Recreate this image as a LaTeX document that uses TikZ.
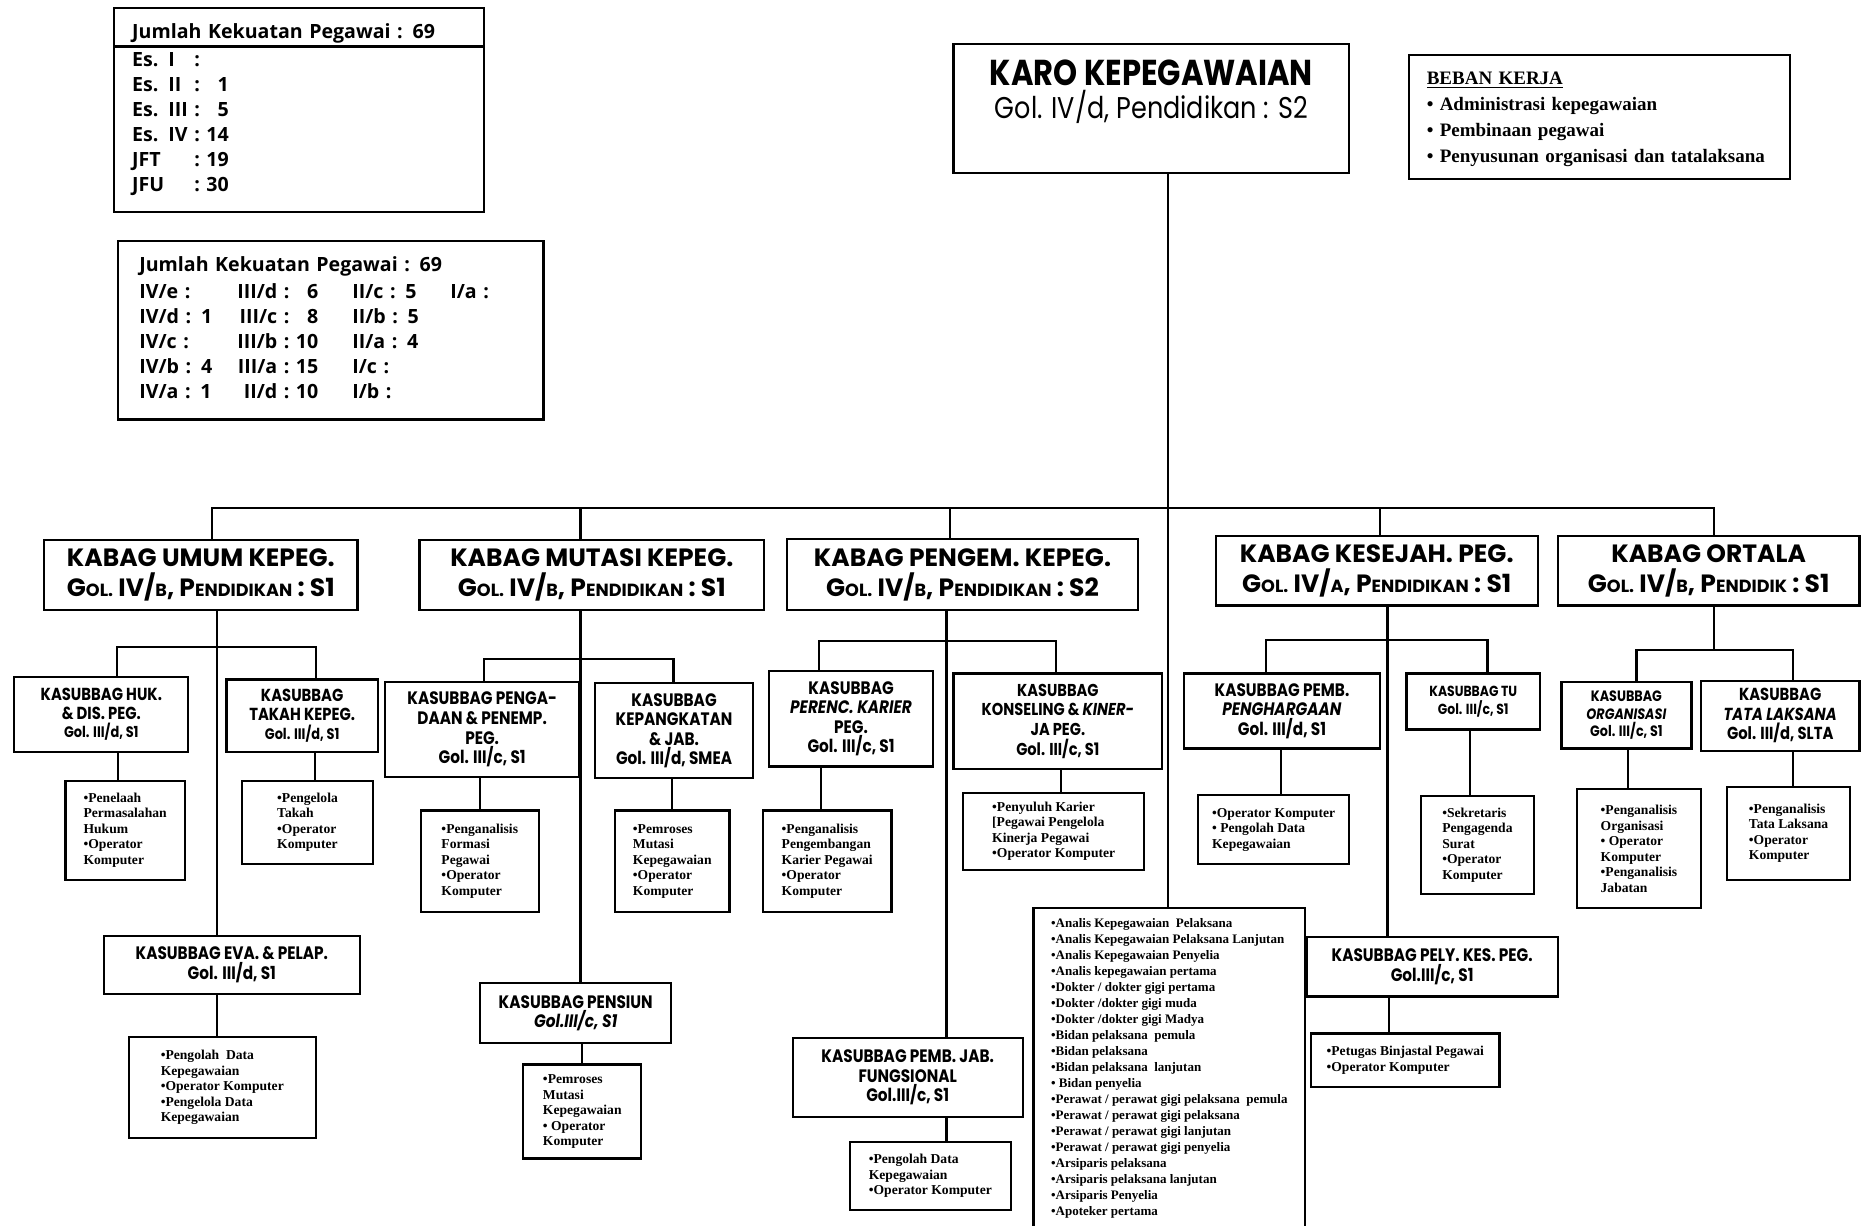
\documentclass[tikz,border=0pt]{standalone}
\usepackage{fontspec}
\newfontfamily\gothic[FakeStretch=0.85]{Poppins}
\newfontfamily\gothicwide{Poppins}
\newfontfamily\timesbold{Liberation Serif}
\newfontfamily\tally{Open Sans}
\newcommand\smc[1]{{\fontsize{8.8}{10}\selectfont #1}}
\newcommand\golsm[1]{{\fontsize{7.6}{8}\selectfont #1}}

\tikzset{
  wh/.style 2 args={minimum width=#1*0.596pt, minimum height=#2*0.596pt},
  box/.style={draw, line width=1.1pt, rectangle, align=center, inner sep=1pt},
  kabag/.style={box, font=\gothicwide\bfseries\fontsize{12.5}{15}\selectfont},
  kasub/.style={box, font=\gothic\bfseries\fontsize{9}{9.8}\selectfont},
  kasubsm/.style={box, font=\gothic\bfseries\fontsize{8.7}{9.3}\selectfont},
  staff/.style={box, align=left, font=\timesbold\bfseries\fontsize{6.8}{7.75}\selectfont},
  countbox/.style={box, align=left, font=\tally\bfseries\fontsize{9.8}{12.5}\selectfont},
  link/.style={line width=1.1pt},
}

\begin{document}
\begin{tikzpicture}[x=0.596pt, y=-0.596pt]
    \useasboundingbox (0,0) rectangle (1568,1028);

    % jumlah pegawai
    \node (eselon) [countbox, anchor=north west, wh={310}{171}, text width=280*0.596pt, inner xsep=15*0.596pt] at (95,6) {%
        \begin{tabular}{@{}l@{\ }c@{\ }r@{}}
        \multicolumn{3}{@{}l@{}}{\rlap{Jumlah Kekuatan Pegawai : 69}}\\[1.5pt]
        Es. I & : & \\
        Es. II & : & 1\\
        Es. III & : & 5\\
        Es. IV & : & 14\\
        JFT & : & 19\\
        JFU & : & 30\\
        \end{tabular}};
    \draw [link] (eselon.west |- 0,39) -- (eselon.east |- 0,39);

    \node (golongan) [countbox, anchor=north west, wh={357}{150}, text width=321*0.596pt, inner xsep=18*0.596pt] at (98,201) {%
        \begin{tabular}{@{}p{49pt}@{}r@{\ :\ }r@{\hspace{17pt}}p{49pt}@{}l@{}}
        \multicolumn{5}{@{}l@{}}{Jumlah Kekuatan Pegawai : 69}\\[1pt]
        IV/e : & III/d & 6 & II/c : 5 & I/a :\\
        IV/d : 1 & III/c & 8 & II/b : 5 & \\
        IV/c : & III/b & 10 & II/a : 4 & \\
        IV/b : 4 & III/a & 15 & I/c : & \\
        IV/a : 1 & II/d & 10 & I/b : & \\
        \end{tabular}};

    % pimpinan
    \node (karo) [box, wh={332}{108}, font=\gothic\fontsize{15}{16.7}\selectfont] at (966,91)
        {{\bfseries\fontsize{18}{20}\selectfont KARO KEPEGAWAIAN}\\ Gol. IV/d, Pendidikan : S2\rule[-19pt]{0pt}{0pt}};
    \node (beban) [box, align=left, wh={320}{104}, text width=290*0.596pt, inner xsep=15*0.596pt, font=\timesbold\bfseries\fontsize{9.5}{13}\selectfont] at (1342,98)
        {\rule{0pt}{8.5pt}\underline{BEBAN KERJA}\\ • Administrasi kepegawaian\\ • Pembinaan pegawai\\ • Penyusunan organisasi dan tatalaksana};

    % kabag
    \node (umum) [kabag, wh={263}{59}] at (168.5,482.5) {KABAG UMUM KEPEG.\\ G\smc{OL.} IV/\smc{B}, P\smc{ENDIDIKAN} : S1};
    \node (mutasi) [kabag, wh={289}{59}] at (496.5,482.5) {KABAG MUTASI KEPEG.\\ G\smc{OL.} IV/\smc{B}, P\smc{ENDIDIKAN} : S1};
    \node (pengem) [kabag, wh={295}{60}] at (807.5,482) {KABAG PENGEM. KEPEG.\\ G\smc{OL.} IV/\smc{B}, P\smc{ENDIDIKAN} : S2};
    \node (kesejah) [kabag, wh={270}{58}] at (1155,479) {KABAG KESEJAH. PEG.\\ G\smc{OL.} IV/\smc{A}, P\smc{ENDIDIKAN} : S1};
    \node (ortala) [kabag, wh={253}{58}] at (1433.5,479) {KABAG ORTALA\\ G\smc{OL.} IV/\smc{B}, P\smc{ENDIDIK} : S1};

    % kasubbag
    \node (huk) [kasubsm, wh={146}{63}] at (85,599.5) {KASUBBAG HUK.\\ \& DIS. PEG.\\ \golsm{Gol. III/d, S1}};
    \node (takah) [kasubsm, wh={127}{61}] at (253.5,600.5) {KASUBBAG\\ TAKAH KEPEG.\\ \golsm{Gol. III/d, S1}};
    \node (pengadaan) [kasub, wh={163}{80}] at (404.5,612) {KASUBBAG PENGA-\\ DAAN \& PENEMP.\\ PEG.\\ Gol. III/c, S1};
    \node (kepangkatan) [kasub, wh={133}{80}] at (565.5,613) {KASUBBAG\\ KEPANGKATAN\\ \& JAB.\\ Gol. III/d, SMEA};
    \node (perenc) [kasub, wh={138}{80}] at (714,603) {KASUBBAG\\ \textit{PERENC. KARIER}\\ PEG.\\ Gol. III/c, S1};
    \node (konseling) [kasub, wh={175}{80}, font=\gothic\bfseries\fontsize{8.6}{9.8}\selectfont] at (887.5,605) {KASUBBAG\\ KONSELING \& \textit{KINER-}\\ JA PEG.\\ Gol. III/c, S1};
    \node (penghargaan) [kasub, wh={165}{63}] at (1075.5,596.5) {KASUBBAG PEMB.\\ \textit{PENGHARGAAN}\\ Gol. III/d, S1};
    \node (tu) [kasubsm, wh={112}{47}, font=\gothic\bfseries\fontsize{7.3}{9.2}\selectfont] at (1236,588.5) {KASUBBAG TU\\ Gol. III/c, S1};
    \node (organisasi) [kasubsm, wh={109}{56}, font=\gothic\bfseries\fontsize{7.5}{8.6}\selectfont] at (1364.5,600) {KASUBBAG\\ \textit{ORGANISASI}\\ Gol. III/c, S1};
    \node (tatalaksana) [kasub, wh={133}{59}, font=\gothic\bfseries\fontsize{8.7}{9.8}\selectfont] at (1493.5,600.5) {KASUBBAG\\ \textit{TATA LAKSANA}\\ Gol. III/d, SLTA};
    \node (eva) [kasub, wh={215}{49}] at (194.5,809.5) {KASUBBAG EVA. \& PELAP.\\ Gol. III/d, S1};
    \node (pensiun) [kasub, wh={160}{50}] at (483,850) {KASUBBAG PENSIUN\\ \textit{Gol.III/c, S1}};
    \node (pembjab) [kasub, wh={193}{66}] at (761.5,904) {KASUBBAG PEMB. JAB.\\ FUNGSIONAL\\ Gol.III/c, S1};
    \node (pely) [kasub, wh={211}{50}] at (1201.5,811) {KASUBBAG PELY. KES. PEG.\\ Gol.III/c, S1};

    % pelaksana
    \node (hukC) [staff, wh={100}{83}] at (105,696.5) {•Penelaah\\ Permasalahan\\ Hukum\\ •Operator\\ Komputer};
    \node (takahC) [staff, wh={110}{70}] at (258,690) {•Pengelola\\ Takah\\ •Operator\\ Komputer};
    \node (pengadaanC) [staff, wh={99}{85}] at (402.5,722.5) {•Penganalisis\\ Formasi\\ Pegawai\\ •Operator\\ Komputer};
    \node (kepangkatanC) [staff, wh={96}{85}] at (564,722.5) {•Pemroses\\ Mutasi\\ Kepegawaian\\ •Operator\\ Komputer};
    \node (perencC) [staff, wh={108}{85}] at (694,722.5) {•Penganalisis\\ Pengembangan\\ Karier Pegawai\\ •Operator\\ Komputer};
    \node (konselingC) [staff, wh={152}{65}] at (884,697.5) {•Penyuluh Karier\\ {[}Pegawai Pengelola\\ Kinerja Pegawai\\ •Operator Komputer};
    \node (penghargaanC) [staff, wh={127}{58}] at (1068.5,696) {•Operator Komputer\\ • Pengolah Data\\ Kepegawaian};
    \node (tuC) [staff, wh={95}{82}] at (1239.5,709) {•Sekretaris\\ Pengagenda\\ Surat\\ •Operator\\ Komputer};
    \node (organisasiC) [staff, wh={104}{100}] at (1375,712) {•Penganalisis\\ Organisasi\\ • Operator\\ Komputer\\ •Penganalisis\\ Jabatan};
    \node (tataC) [staff, wh={103}{78}] at (1500.5,699) {•Penganalisis\\ Tata Laksana\\ •Operator\\ Komputer};
    \node (evaC) [staff, wh={157}{85}] at (186.5,912.5) {•Pengolah\ \ Data\\ Kepegawaian\\ •Operator Komputer\\ •Pengelola Data\\ Kepegawaian};
    \node (pensiunC) [staff, wh={99}{79}] at (488.5,932.5) {•Pemroses\\ Mutasi\\ Kepegawaian\\ • Operator\\ Komputer};
    \node (pembjabC) [staff, wh={135}{57}] at (780.5,986.5) {•Pengolah Data\\ Kepegawaian\\ •Operator Komputer};
    \node (pelyC) [staff, wh={158}{45}] at (1179,889.5) {•Petugas Binjastal Pegawai\\ •Operator Komputer};
    \node (jft) [staff, wh={228}{269}, font=\timesbold\bfseries\fontsize{6.5}{8}\selectfont] at (981,896.5) {%
        •Analis Kepegawaian\ \ Pelaksana\\ •Analis Kepegawaian Pelaksana Lanjutan\\ •Analis Kepegawaian Penyelia\\
        •Analis kepegawaian pertama\\ •Dokter / dokter gigi pertama\\ •Dokter /dokter gigi muda\\
        •Dokter /dokter gigi Madya\\ •Bidan pelaksana\ \ pemula\\ •Bidan pelaksana\\
        •Bidan pelaksana\ \ lanjutan\\ • Bidan penyelia\\ •Perawat / perawat gigi pelaksana\ \ pemula\\
        •Perawat / perawat gigi pelaksana\\ •Perawat / perawat gigi lanjutan\\ •Perawat / perawat gigi penyelia\\
        •Arsiparis pelaksana\\ •Arsiparis pelaksana lanjutan\\ •Arsiparis Penyelia\\ •Apoteker pertama};

    % garis utama
    \coordinate (bar) at (0,426);
    \draw [link] (980,0 |- karo.south) -- (980,0 |- jft.north);
    \draw [link] (178,0 |- umum.north) |- (1438,0 |- bar) -- (1438,0 |- ortala.north);
    \foreach \x/\k in {487/mutasi, 797/pengem, 1158/kesejah}
        \draw [link] (\x,0 |- bar) -- (\x,0 |- \k.north);

    % umum
    \coordinate (brUmum) at (0,543);
    \draw [link] (182,0 |- umum.south) -- (182,0 |- eva.north);
    \draw [link] (98,0 |- huk.north) |- (265,0 |- brUmum) -- (265,0 |- takah.north);
    \draw [link] (99,0 |- huk.south) -- (99,0 |- hukC.north);
    \draw [link] (264,0 |- takah.south) -- (264,0 |- takahC.north);
    \draw [link] (182,0 |- eva.south) -- (182,0 |- evaC.north);

    % mutasi
    \coordinate (brMutasi) at (0,553);
    \draw [link] (487,0 |- mutasi.south) -- (487,0 |- pensiun.north);
    \draw [link] (406,0 |- pengadaan.north) |- (565,0 |- brMutasi) -- (565,0 |- kepangkatan.north);
    \draw [link] (403,0 |- pengadaan.south) -- (403,0 |- pengadaanC.north);
    \draw [link] (564,0 |- kepangkatan.south) -- (564,0 |- kepangkatanC.north);
    \draw [link] (488,0 |- pensiun.south) -- (488,0 |- pensiunC.north);

    % pengembangan
    \coordinate (brPengem) at (0,538);
    \draw [link] (794,0 |- pengem.south) -- (794,0 |- pembjab.north);
    \draw [link] (687,0 |- perenc.north) |- (886,0 |- brPengem) -- (886,0 |- konseling.north);
    \draw [link] (689,0 |- perenc.south) -- (689,0 |- perencC.north);
    \draw [link] (890,0 |- konseling.south) -- (890,0 |- konselingC.north);
    \draw [link] (794,0 |- pembjab.south) -- (794,0 |- pembjabC.north);

    % kesejahteraan
    \coordinate (brKesejah) at (0,537);
    \draw [link] (1164,0 |- kesejah.south) -- (1164,0 |- pely.north);
    \draw [link] (1062,0 |- penghargaan.north) |- (1248,0 |- brKesejah) -- (1248,0 |- tu.north);
    \draw [link] (1075,0 |- penghargaan.south) -- (1075,0 |- penghargaanC.north);
    \draw [link] (1233,0 |- tu.south) -- (1233,0 |- tuC.north);
    \draw [link] (1165,0 |- pely.south) -- (1165,0 |- pelyC.north);

    % ortala
    \coordinate (brOrtala) at (0,545);
    \draw [link] (1438,0 |- ortala.south) -- (1438,0 |- brOrtala);
    \draw [link] (1373,0 |- organisasi.north) |- (1504,0 |- brOrtala) -- (1504,0 |- tatalaksana.north);
    \draw [link] (1366,0 |- organisasi.south) -- (1366,0 |- organisasiC.north);
    \draw [link] (1504,0 |- tatalaksana.south) -- (1504,0 |- tataC.north);
\end{tikzpicture}
\end{document}
